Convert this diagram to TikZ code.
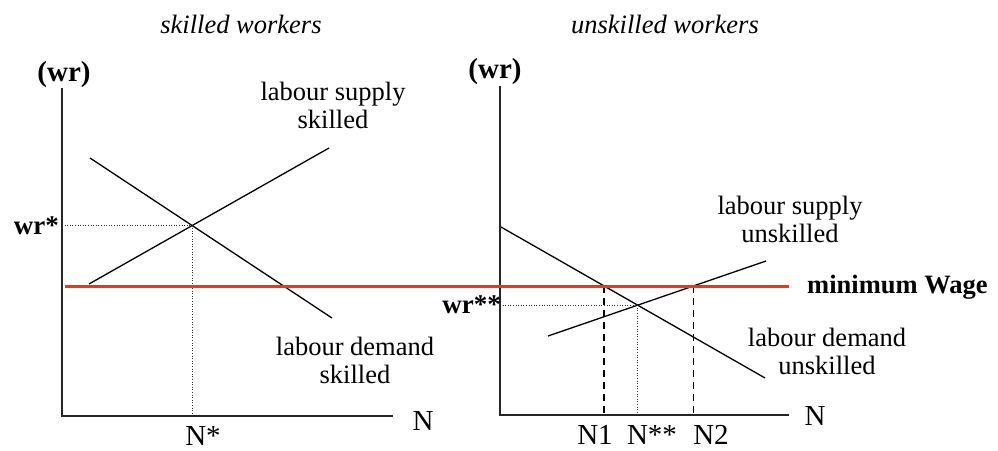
\documentclass[tikz,border=0pt]{standalone}
\usepackage{fontspec}
\setmainfont{Liberation Serif}
\definecolor{minred}{RGB}{255,51,0}
\tikzset{
  axis/.style={line width=1.6pt, black!85},
  curve/.style={line width=1.3pt, black},
  minwage/.style={line width=3pt, minred},
  dotguide/.style={line width=0.9pt, dash pattern=on 1pt off 1.6pt, black!80},
  dashguide/.style={line width=1.4pt, dash pattern=on 7pt off 5pt, black},
  lbl/.style={inner sep=0pt, font=\fontsize{26.5}{28}\selectfont},
  two/.style={inner sep=0pt, align=center, font=\fontsize{26.5}{28}\selectfont},
  ttl/.style={inner sep=0pt, font=\fontsize{26.5}{28}\selectfont\itshape},
  axlbl/.style={inner sep=0pt, font=\fontsize{29}{30}\selectfont},
  wrlbl/.style={inner sep=0pt, font=\fontsize{27}{28}\selectfont\bfseries},
}
\begin{document}
\begin{tikzpicture}[x=1pt,y=-1pt]
\useasboundingbox (0,0) rectangle (998,450);

% ---------- left panel: skilled ----------
\coordinate (A1t) at (62,88);
\coordinate (A1o) at (62,416);
\coordinate (A1r) at (393,416);
\draw[axis] (A1t) -- (A1o) -- (A1r);

\coordinate (S1a) at (89,284);
\coordinate (S1b) at (329,148);
\coordinate (D1a) at (90,158);
\coordinate (D1b) at (332,318);
\draw[curve] (S1a) -- (S1b);
\draw[curve] (D1a) -- (D1b);
\coordinate (E1) at (intersection of S1a--S1b and D1a--D1b);
\draw[dotguide] (A1t |- E1) -- (E1);
\draw[dotguide] (E1) -- (E1 |- A1o);

% ---------- right panel: unskilled ----------
\coordinate (A2t) at (500,86);
\coordinate (A2o) at (500,415);
\coordinate (A2r) at (789,415);
\draw[axis] (A2t) -- (A2o) -- (A2r);

\coordinate (D2a) at (501,227);
\coordinate (D2b) at (765,378);
\coordinate (S2a) at (548,336);
\coordinate (S2b) at (766,261);
\draw[curve] (D2a) -- (D2b);
\draw[curve] (S2a) -- (S2b);
\coordinate (E2) at (intersection of S2a--S2b and D2a--D2b);
\draw[dotguide] (A2t |- E2) -- (E2);
\draw[dotguide] (E2) -- (E2 |- A2o);

% ---------- minimum wage ----------
\coordinate (Rl) at (65,286);
\coordinate (Rr) at (789,286);
\coordinate (M1) at (intersection of Rl--Rr and D2a--D2b);
\coordinate (M2) at (intersection of Rl--Rr and S2a--S2b);
\draw[dashguide] (M1) -- (M1 |- A2o);
\draw[dashguide] (M2) -- (M2 |- A2o);
\draw[minwage] (Rl) -- (Rr);

% ---------- texts ----------
\node[ttl, anchor=base] (t1) at (241,33) {skilled workers};
\node[ttl, anchor=base] (t2) at (665,33) {unskilled workers};

\node[axlbl, anchor=base, font=\fontsize{29}{30}\selectfont\bfseries] (wr1) at (64,81) {(wr)};
\node[axlbl, anchor=base, font=\fontsize{29}{30}\selectfont\bfseries] (wr2) at (495,78) {(wr)};

\node[wrlbl, anchor=base east] (wrs) at (59,234) {wr*};
\node[wrlbl, anchor=base east] (wrss) at (501,313) {wr**};

\node[axlbl, anchor=base] (Ns) at (203,445) {N*};
\node[axlbl, anchor=base] (Nax1) at (423,430) {N};
\node[axlbl, anchor=base] (Nax2) at (815,425) {N};
\node[axlbl, anchor=base] (N1) at (595,444) {N1};
\node[axlbl, anchor=base] (Nss) at (652,444) {N**};
\node[axlbl, anchor=base] (N2) at (711,444) {N2};

\node[two, anchor=base] (ls1) at (333,128) {labour supply\\skilled};
\node[two, anchor=base] (ld1) at (355,383) {labour demand\\skilled};
\node[two, anchor=base] (ls2) at (790,242) {labour supply\\unskilled};
\node[two, anchor=base] (ld2) at (827,374) {labour demand\\unskilled};

\node[lbl, anchor=base west, font=\fontsize{26.5}{28}\selectfont\bfseries] (mw) at (807,293) {minimum Wage};
\end{tikzpicture}
\end{document}
